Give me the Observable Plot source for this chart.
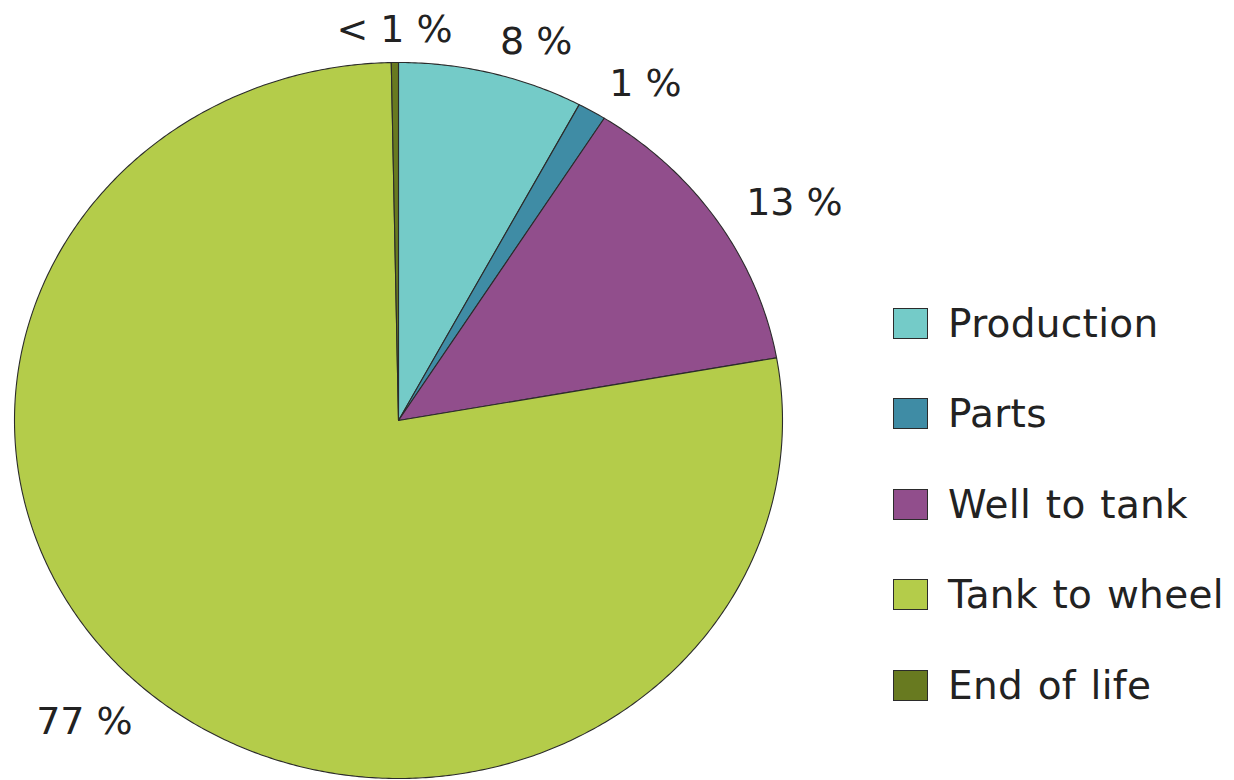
<!DOCTYPE html>
<html>
<head>
<meta charset="utf-8">
<script src="https://cdn.jsdelivr.net/npm/d3@7"></script>
<script src="https://cdn.jsdelivr.net/npm/@observablehq/plot@0.6"></script>
<style>
  html, body { margin: 0; padding: 0; background: #fff; }
  #wrap { position: relative; width: 1234px; height: 780px; overflow: hidden; font-family: "DejaVu Sans", Verdana, sans-serif; }
  #chart { position: absolute; left: 0; top: 0; }
  #legend { position: absolute; left: 893px; top: 278px; }
  .row { display: flex; align-items: center; height: 90.5px; }
  .sw { width: 33px; height: 29px; border: 1px solid #2b2b2b; margin-right: 20px; }
  .lab { font-size: 39px; color: #222; word-spacing: 2px; letter-spacing: 0.3px; white-space: nowrap; }
</style>
</head>
<body>
<div id="wrap">
  <div id="chart"></div>
  <div id="legend"></div>
</div>
<script>
// Data (clockwise from 12 o'clock)
const categories = ["Production", "Parts", "Well to tank", "Tank to wheel", "End of life"];
const shares = [7.8, 1.2, 13.2, 77.5, 0.3];
const labels = ["8 %", "1 %", "13 %", "77 %", "< 1 %"];
const colors = ["#74cbc8", "#3f8ca5", "#914e8c", "#b4cc4a", "#687a20"];

const total = d3.sum(shares);
let acc = 0;
const slices = categories.map((name, i) => {
  const a0 = acc / total * 2 * Math.PI;
  acc += shares[i];
  const a1 = acc / total * 2 * Math.PI;
  return { name, a0, a1, label: labels[i] };
});

// Polygon vertices for each wedge, derived from the shares
const pts = [];
for (const s of slices) {
  pts.push({ name: s.name, x: 0, y: 0 });
  const n = Math.max(2, Math.ceil((s.a1 - s.a0) / (Math.PI / 360)));
  for (let k = 0; k <= n; k++) {
    const a = s.a0 + (s.a1 - s.a0) * k / n;
    pts.push({ name: s.name, x: Math.sin(a), y: Math.cos(a) });
  }
  pts.push({ name: s.name, x: 0, y: 0 });
}

const labelR = 1.09;
const labelData = slices.map(s => {
  const m = (s.a0 + s.a1) / 2;
  const sx = Math.sin(m);
  return {
    label: s.label,
    x: labelR * sx,
    y: labelR * Math.cos(m),
    anchor: Math.abs(sx) < 0.05 ? "middle" : (sx > 0 ? "start" : "end")
  };
});

const chart = Plot.plot({
  width: 870,
  height: 780,
  marginLeft: 14,
  marginRight: 88,
  marginTop: 62,
  marginBottom: 2,
  x: { domain: [-1, 1], axis: null },
  y: { domain: [-1, 1], axis: null },
  color: { domain: categories, range: colors },
  style: { fontFamily: "DejaVu Sans, Verdana, sans-serif", background: "transparent" },
  marks: [
    Plot.line(pts, { x: "x", y: "y", z: "name", fill: "name", stroke: "#2b2b2b", strokeWidth: 1.1, curve: "linear" }),
    ...["start", "middle", "end"].map(anc =>
      Plot.text(labelData.filter(d => d.anchor === anc), {
        x: "x", y: "y", text: "label", textAnchor: anc,
        fontSize: 38, fill: "#222", lineAnchor: "middle", letterSpacing: "1px"
      })
    )
  ]
});
document.getElementById("chart").appendChild(chart);

// Legend using the plot's color scale
const cs = chart.scale("color");
const legend = document.getElementById("legend");
categories.forEach(c => {
  const row = document.createElement("div");
  row.className = "row";
  const sw = document.createElement("div");
  sw.className = "sw";
  sw.style.background = cs.apply(c);
  const lab = document.createElement("div");
  lab.className = "lab";
  lab.textContent = c;
  row.appendChild(sw);
  row.appendChild(lab);
  legend.appendChild(row);
});
</script>
</body>
</html>
